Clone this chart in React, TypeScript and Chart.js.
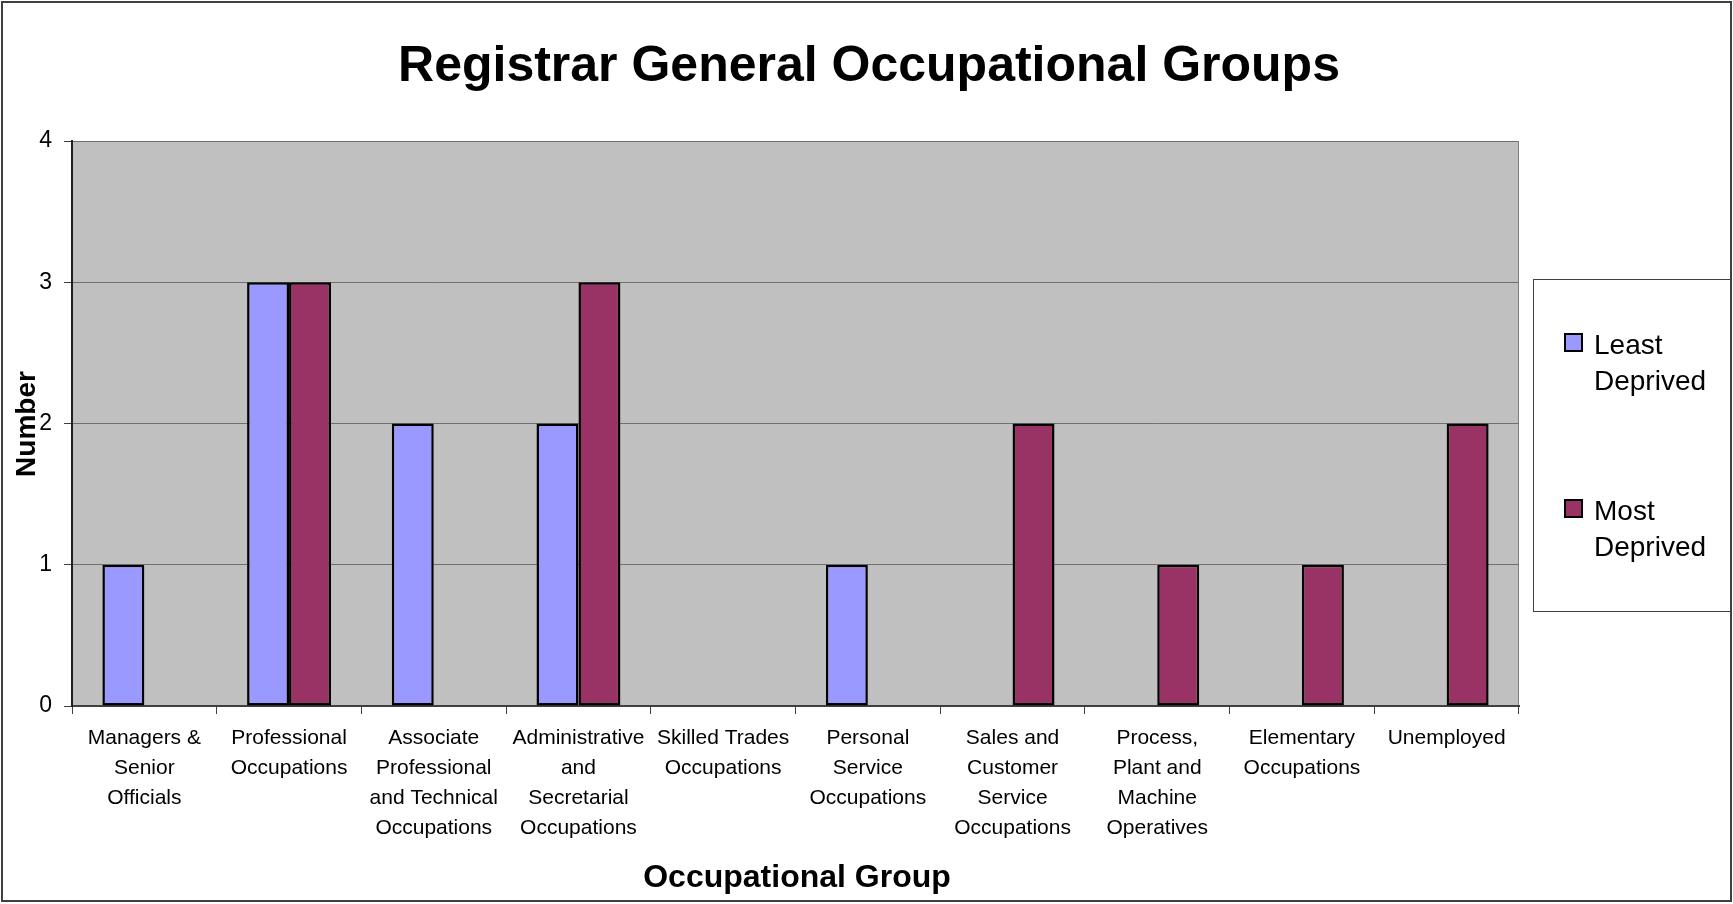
import React, { useEffect, useRef } from "react";
import { Chart, registerables } from "chart.js";

Chart.register(...registerables);

const categories: string[][] = [
  ["Managers &", "Senior", "Officials"],
  ["Professional", "Occupations"],
  ["Associate", "Professional", "and Technical", "Occupations"],
  ["Administrative", "and", "Secretarial", "Occupations"],
  ["Skilled Trades", "Occupations"],
  ["Personal", "Service", "Occupations"],
  ["Sales and", "Customer", "Service", "Occupations"],
  ["Process,", "Plant and", "Machine", "Operatives"],
  ["Elementary", "Occupations"],
  ["Unemployed"],
];

const leastDeprived: number[] = [1, 3, 2, 2, 0, 1, 0, 0, 0, 0];
const mostDeprived: number[] = [0, 3, 0, 3, 0, 0, 2, 1, 1, 2];

const seriesNames: string[][] = [
  ["Least", "Deprived"],
  ["Most", "Deprived"],
];
const seriesColors: string[] = ["#9999FF", "#993366"];

const yTicks: number[] = [0, 1, 2, 3, 4];

const chartTitle = "Registrar General Occupational Groups";
const xTitle = "Occupational Group";
const yTitle = "Number";

const FONT = '"Liberation Sans", Arial, Helvetica, sans-serif';

export default function App() {
  const ref = useRef<HTMLCanvasElement | null>(null);

  useEffect(() => {
    document.body.style.margin = "0";
    document.body.style.overflow = "hidden";
    const canvas = ref.current;
    if (!canvas) return;

    const decor = {
      id: "decor",
      beforeDraw(chart: any) {
        const { ctx, chartArea } = chart;
        ctx.save();
        ctx.fillStyle = "#ffffff";
        ctx.fillRect(0, 0, chart.width, chart.height);
        ctx.fillStyle = "#C0C0C0";
        ctx.fillRect(
          chartArea.left,
          chartArea.top,
          chartArea.right - chartArea.left,
          chartArea.bottom - chartArea.top
        );
        ctx.strokeStyle = "#808080";
        ctx.lineWidth = 1;
        ctx.strokeRect(
          chartArea.left + 0.5,
          chartArea.top + 0.5,
          chartArea.right - chartArea.left - 1,
          chartArea.bottom - chartArea.top
        );
        ctx.restore();
      },
      afterDraw(chart: any) {
        const { ctx } = chart;
        ctx.save();
        // outer border
        ctx.strokeStyle = "#404040";
        ctx.lineWidth = 2;
        ctx.strokeRect(2, 2, 1729, 899);

        // title
        ctx.fillStyle = "#000000";
        ctx.textAlign = "center";
        ctx.textBaseline = "alphabetic";
        ctx.font = `bold 50px ${FONT}`;
        ctx.fillText(chartTitle, 869, 81);

        // x title
        ctx.font = `bold 32px ${FONT}`;
        ctx.fillText(xTitle, 797, 887);

        // y title
        ctx.save();
        ctx.translate(35, 424);
        ctx.rotate(-Math.PI / 2);
        ctx.font = `bold 28px ${FONT}`;
        ctx.fillText(yTitle, 0, 0);
        ctx.restore();

        // legend
        ctx.strokeStyle = "#404040";
        ctx.lineWidth = 1;
        ctx.fillStyle = "#ffffff";
        ctx.fillRect(1533, 279, 198, 333);
        ctx.strokeRect(1533.5, 279.5, 197, 332);
        const tops = [333, 499];
        ctx.font = `28px ${FONT}`;
        ctx.textAlign = "left";
        seriesNames.forEach((lines, i) => {
          const t = tops[i];
          ctx.fillStyle = seriesColors[i];
          ctx.fillRect(1564, t, 19, 19);
          ctx.strokeStyle = "#000000";
          ctx.lineWidth = 2;
          ctx.strokeRect(1565, t + 1, 17, 17);
          ctx.fillStyle = "#000000";
          lines.forEach((ln, j) => {
            ctx.fillText(ln, 1594, t + 21 + j * 36);
          });
        });
        ctx.restore();
      },
    };

    const mkDs = (label: string, data: number[], color: string) => ({
      label,
      data,
      backgroundColor: color,
      borderColor: "#000000",
      borderWidth: (c: any) => (c.raw === 0 ? 0 : 2.5),
      borderSkipped: false,
      categoryPercentage: 0.58,
      barPercentage: 1.0,
    });

    const chart = new Chart(canvas, {
      type: "bar",
      data: {
        labels: categories as any,
        datasets: [
          mkDs(seriesNames[0].join(" "), leastDeprived, seriesColors[0]),
          mkDs(seriesNames[1].join(" "), mostDeprived, seriesColors[1]),
        ],
      },
      options: {
        responsive: false,
        animation: false,
        devicePixelRatio: 1,
        layout: { padding: { left: 0, right: 214, top: 141, bottom: 0 } },
        plugins: {
          legend: { display: false },
          title: { display: false },
          tooltip: { enabled: false },
        },
        scales: {
          x: {
            type: "category",
            offset: true,
            grid: {
              offset: true,
              display: true,
              drawOnChartArea: false,
              drawTicks: true,
              tickLength: 8,
              color: "#404040",
            },
            border: { display: true, color: "#404040", width: 2 },
            ticks: {
              autoSkip: false,
              maxRotation: 0,
              minRotation: 0,
              padding: 9,
              color: "#000000",
              font: { family: FONT, size: 21, lineHeight: 30 / 21 },
            },
            afterFit: (s: any) => {
              s.height = 198;
            },
          },
          y: {
            min: 0,
            max: 4,
            afterBuildTicks: (s: any) => {
              s.ticks = yTicks.map((v) => ({ value: v }));
            },
            grid: {
              color: "#707070",
              lineWidth: 1,
              drawTicks: true,
              tickLength: 8,
              tickColor: "#404040",
            },
            border: { display: true, color: "#202020", width: 2 },
            ticks: {
              padding: 12,
              color: "#000000",
              font: { family: FONT, size: 23 },
            },
            afterFit: (s: any) => {
              s.width = 72;
            },
          },
        },
      },
      plugins: [decor],
    });

    return () => chart.destroy();
  }, []);

  return (
    <canvas
      ref={ref}
      width={1733}
      height={904}
      style={{ display: "block", width: "1733px", height: "904px" }}
    />
  );
}
